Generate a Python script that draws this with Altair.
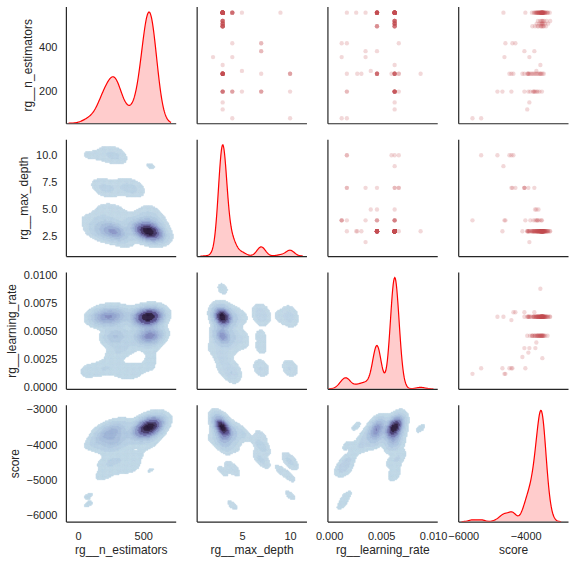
import numpy as np
import pandas as pd
import altair as alt

# Hyper-parameter search results: one entry per configuration tried,
# with the scores that configuration obtained.
config_n_estimators = [559, 521, 509, 497, 559, 497, 559, 559, 559, 559, 559, 559, 559,
                       420, 420, 420, 384, 384, 357, 357, 321, 294,
                       281, 281, 281, 281, 281, 281, 281, 281, 281,
                       200, 200, 200, 200, 200, 200, 200, 200, 151, 119, 79, 79]
config_max_depth = [3, 3, 3, 3, 3, 3, 4, 4, 5, 9, 4, 3, 4,
                    4, 7, 7, 7, 7, 2, 4, 3, 5,
                    10, 7, 3, 3, 3, 10, 10, 3, 3,
                    10, 3, 7, 7, 4, 5, 3, 3, 3, 3, 4, 10]
config_learning_rate = [0.0063, 0.0063, 0.0063, 0.0063, 0.0046, 0.0046, 0.0046, 0.0063, 0.0046,
                        0.0063, 0.0017, 0.0026, 0.0035,
                        0.0012, 0.0017, 0.0067, 0.0035, 0.0046, 0.0035, 0.0012, 0.0063, 0.0040,
                        0.0060, 0.0067, 0.0088, 0.0027, 0.0031, 0.0017, 0.0067, 0.0046, 0.0063,
                        0.0063, 0.0017, 0.0017, 0.0063, 0.0063, 0.0063, 0.0067, 0.0063, 0.0063,
                        0.0063, 0.0012, 0.0017]
config_scores = [
    [-3230, -3290, -3330, -3360, -3385, -3400, -3415, -3425, -3435, -3442, -3450, -3456, -3462,
     -3468, -3474, -3480, -3487, -3495, -3503, -3512, -3522, -3535, -3550, -3570, -3595, -3625,
     -3670, -3740],
    [-3215, -3330, -3410, -3445, -3470, -3495, -3540, -3610],
    [-3280, -3380, -3430, -3460, -3485, -3510, -3560, -3650],
    [-3350, -3440, -3475, -3500, -3590, -3700],
    [-3300, -3370, -3410, -3440, -3460, -3478, -3495, -3515, -3540, -3570, -3610, -3660, -3720, -3800],
    [-3420, -3520, -3620, -3786],
    [-3480, -3560, -3650],
    [-3500, -3620],
    [-3590],
    [-4712],
    [-4010],
    [-3466],
    [-3690],
    [-4649],
    [-4425],
    [-4329],
    [-4041],
    [-3722],
    [-3882],
    [-4680],
    [-3530],
    [-3658],
    [-4457],
    [-4041],
    [-3530],
    [-4105],
    [-3914],
    [-4521],
    [-4393],
    [-3460, -3540, -3620, -3700, -3780, -3860, -3950],
    [-3420, -3500, -3580, -3660, -3740, -3820, -3900, -3930],
    [-4904],
    [-4744],
    [-4457],
    [-3914, -4041],
    [-3850, -3750, -3620],
    [-3700],
    [-3722],
    [-3480, -3560, -3650, -3760],
    [-3882],
    [-3950],
    [-5703],
    [-5425],
]

VARS = ["rg__n_estimators", "rg__max_depth", "rg__learning_rate", "score"]

# axis extents of each column (x) and row (y)
x_domains = [(-94, 749), (0.3, 11.7), (-0.00017, 0.0104), (-6160, -2645)]
y_domains = [(56, 587), (0.71, 11.48), (-0.00014, 0.0103), (-6170, -2858)]

# tick labels shown on the outer axes
x_tick_values = [[0, 500], [5, 10], [0.0, 0.005, 0.010], [-6000, -4000]]
x_tick_formats = ["d", "d", ".3f", "d"]
y_tick_values = [[200, 400], [2.5, 5.0, 7.5, 10.0], [0.0, 0.0025, 0.0050, 0.0075, 0.0100],
                 [-6000, -5000, -4000, -3000]]
y_tick_formats = ["d", ".1f", ".4f", "d"]
# horizontal placement of each row's axis title, relative to the axis line
y_title_x = [-31, -35, None, None]

records = []
for n, d, lr, scores in zip(config_n_estimators, config_max_depth, config_learning_rate, config_scores):
    for s in scores:
        records.append({VARS[0]: n, VARS[1]: d, VARS[2]: lr, VARS[3]: s})
df = pd.DataFrame(records)
N = len(df)
vals = {v: df[v].to_numpy(float) for v in VARS}

# The 2-D density grids span the axis extents, i.e. data range +/- 3 bandwidths,
# so each variable's bandwidth follows from its extent.
extents = {
    VARS[0]: [x_domains[0]],
    VARS[1]: [x_domains[1], y_domains[1]],
    VARS[2]: [x_domains[2], y_domains[2]],
    VARS[3]: [y_domains[3]],
}
bw2 = {}
for v in VARS:
    rng = vals[v].max() - vals[v].min()
    bw2[v] = float(np.mean([((hi - lo) - rng) / 6 for lo, hi in extents[v]]))
# 1-D Scott factor n^(-1/5) against the 2-D factor n^(-1/6)
bw1 = {v: bw2[v] * N ** (-1 / 30) for v in VARS}
sup1 = {v: (vals[v].min() - 3 * bw1[v], vals[v].max() + 3 * bw1[v]) for v in VARS}

W, H = 110, 117
FONT = "Liberation Sans"
INK = "#262626"
POINT = "#c44e52"
KDE_RED = "#ff0000"
ramp_stops = [0.0, 0.2, 0.4, 0.6, 0.8, 1.0]
ramp_colors = ["#c4dae8", "#a6bcdb", "#8892c5", "#615c9a", "#372a52", "#20132b"]


def density_peak(v):
    """Highest value of the 1-D Gaussian KDE over its support."""
    g = np.linspace(*sup1[v], 400)
    z = np.exp(-0.5 * ((g[:, None] - vals[v][None, :]) / bw1[v]) ** 2).sum(1)
    return float(z.max() / (N * bw1[v] * np.sqrt(2 * np.pi)))


def kde2d(xvar, yvar, gx, gy):
    xv, yv = vals[xvar], vals[yvar]
    rho = np.corrcoef(xv, yv)[0, 1]
    bx, by = bw2[xvar], bw2[yvar]
    cov = np.array([[bx * bx, rho * bx * by], [rho * bx * by, by * by]])
    inv = np.linalg.inv(cov)
    norm = 1.0 / (2 * np.pi * np.sqrt(np.linalg.det(cov)) * len(xv))
    X, Y = np.meshgrid(gx, gy)
    z = np.zeros_like(X)
    for a, b in zip(xv, yv):
        dx = X - a
        dy = Y - b
        z += np.exp(-0.5 * (inv[0, 0] * dx * dx + 2 * inv[0, 1] * dx * dy + inv[1, 1] * dy * dy))
    return z * norm


def iso_levels(z, n_levels=10, thresh=0.05):
    q = np.linspace(thresh, 1, n_levels)
    s = np.sort(z.ravel())[::-1]
    c = np.cumsum(s) / s.sum()
    idx = np.searchsorted(c, 1 - q)
    return np.take(s, idx, mode="clip")


def kde_cells(i, j, cells=95):
    xvar, yvar = VARS[j], VARS[i]
    (x0, x1), (y0, y1) = x_domains[j], y_domains[i]
    lev = iso_levels(kde2d(xvar, yvar, np.linspace(x0, x1, 200), np.linspace(y0, y1, 200)))
    ex = np.linspace(x0, x1, cells + 1)
    ey = np.linspace(y0, y1, cells + 1)
    cx = (ex[:-1] + ex[1:]) / 2
    cy = (ey[:-1] + ey[1:]) / 2
    z = kde2d(xvar, yvar, cx, cy)
    band = np.minimum(np.searchsorted(lev, z, side="right") - 1, len(lev) - 2)
    mids = (lev[:-1] + lev[1:]) / 2
    tval = (mids - lev[0]) / (lev[-1] - lev[0])
    iy, ix = np.nonzero(band >= 0)
    return pd.DataFrame({
        "x0": ex[ix], "x1": ex[ix + 1], "y0": ey[iy], "y1": ey[iy + 1],
        "t": np.round(tval[band[iy, ix]], 4),
    })


def bare_axis():
    return alt.Axis(labels=False, ticks=False, title=None, domain=True, grid=False)


def x_axis(i, j):
    if i == 3:
        return alt.Axis(values=x_tick_values[j], format=x_tick_formats[j], title=VARS[j],
                        labelPadding=9, titlePadding=3)
    return bare_axis()


def y_axis(i, j):
    if j == 0:
        extra = {} if y_title_x[i] is None else {"titleX": y_title_x[i]}
        return alt.Axis(values=y_tick_values[i], format=y_tick_formats[i], title=VARS[i],
                        labelPadding=9, titlePadding=5, **extra)
    return bare_axis()


def xscale(j):
    return alt.Scale(domain=list(x_domains[j]), nice=False, zero=False)


def yscale(i):
    return alt.Scale(domain=list(y_domains[i]), nice=False, zero=False)


def scatter(i, j):
    return alt.Chart(df).mark_circle(size=19, color=POINT, opacity=0.22).encode(
        x=alt.X(f"{VARS[j]}:Q", scale=xscale(j), axis=x_axis(i, j)),
        y=alt.Y(f"{VARS[i]}:Q", scale=yscale(i), axis=y_axis(i, j)),
    ).properties(width=W, height=H)


def contour(i, j):
    cells = kde_cells(i, j)
    cscale = alt.Scale(domain=ramp_stops, range=ramp_colors)
    return alt.Chart(cells).mark_rect(strokeWidth=0.5).encode(
        x=alt.X("x0:Q", scale=xscale(j), axis=x_axis(i, j)),
        x2="x1:Q",
        y=alt.Y("y0:Q", scale=yscale(i), axis=y_axis(i, j)),
        y2="y1:Q",
        color=alt.Color("t:Q", scale=cscale, legend=None),
        stroke=alt.Color("t:Q", scale=cscale, legend=None),
    ).properties(width=W, height=H)


def diagonal(i):
    v = VARS[i]
    lo, hi = sup1[v]
    dens = alt.Chart(df).transform_density(
        v, as_=[v, "density"], bandwidth=float(bw1[v]), extent=[float(lo), float(hi)], steps=200
    )
    dscale = alt.Scale(domain=[0, density_peak(v) * 1.05], nice=False, zero=True)
    yax = None if i == 0 else bare_axis()
    enc = dict(
        x=alt.X(f"{v}:Q", scale=xscale(i), axis=x_axis(i, i)),
        y=alt.Y("density:Q", scale=dscale, axis=yax),
    )
    area = dens.mark_area(color=KDE_RED, opacity=0.2, clip=True).encode(**enc)
    line = dens.mark_line(color=KDE_RED, strokeWidth=1.2, clip=True).encode(**enc)
    if i == 0:
        # the first row's value axis sits on the diagonal panel
        holder = alt.Chart(df).mark_point(opacity=0).encode(
            x=alt.X(f"{v}:Q", scale=xscale(0), axis=x_axis(0, 0)),
            y=alt.Y(f"{v}:Q", scale=yscale(0), axis=y_axis(0, 0)),
        )
        return alt.layer(holder, area, line).resolve_scale(y="independent").properties(width=W, height=H)
    return alt.layer(area, line).properties(width=W, height=H)


def panel(i, j):
    if i == j:
        return diagonal(i)
    if i < j:
        return scatter(i, j)
    return contour(i, j)


panels = [panel(i, j) for i in range(4) for j in range(4)]

chart = alt.concat(*panels, columns=4, spacing={"row": 16, "column": 21}, bounds="flush").properties(
    padding={"left": 5, "top": 6, "right": 5, "bottom": 5}
).configure_view(stroke=None).configure_axis(
    domainColor=INK, domainWidth=1.2, ticks=False, tickSize=0, grid=False,
    labelFont=FONT, labelFontSize=11, labelColor=INK, labelFlush=False, labelOverlap=False,
    titleFont=FONT, titleFontSize=12, titleColor=INK, titleFontWeight="normal",
)

chart.save("out.html", embed_options={"renderer": "svg", "actions": False})
